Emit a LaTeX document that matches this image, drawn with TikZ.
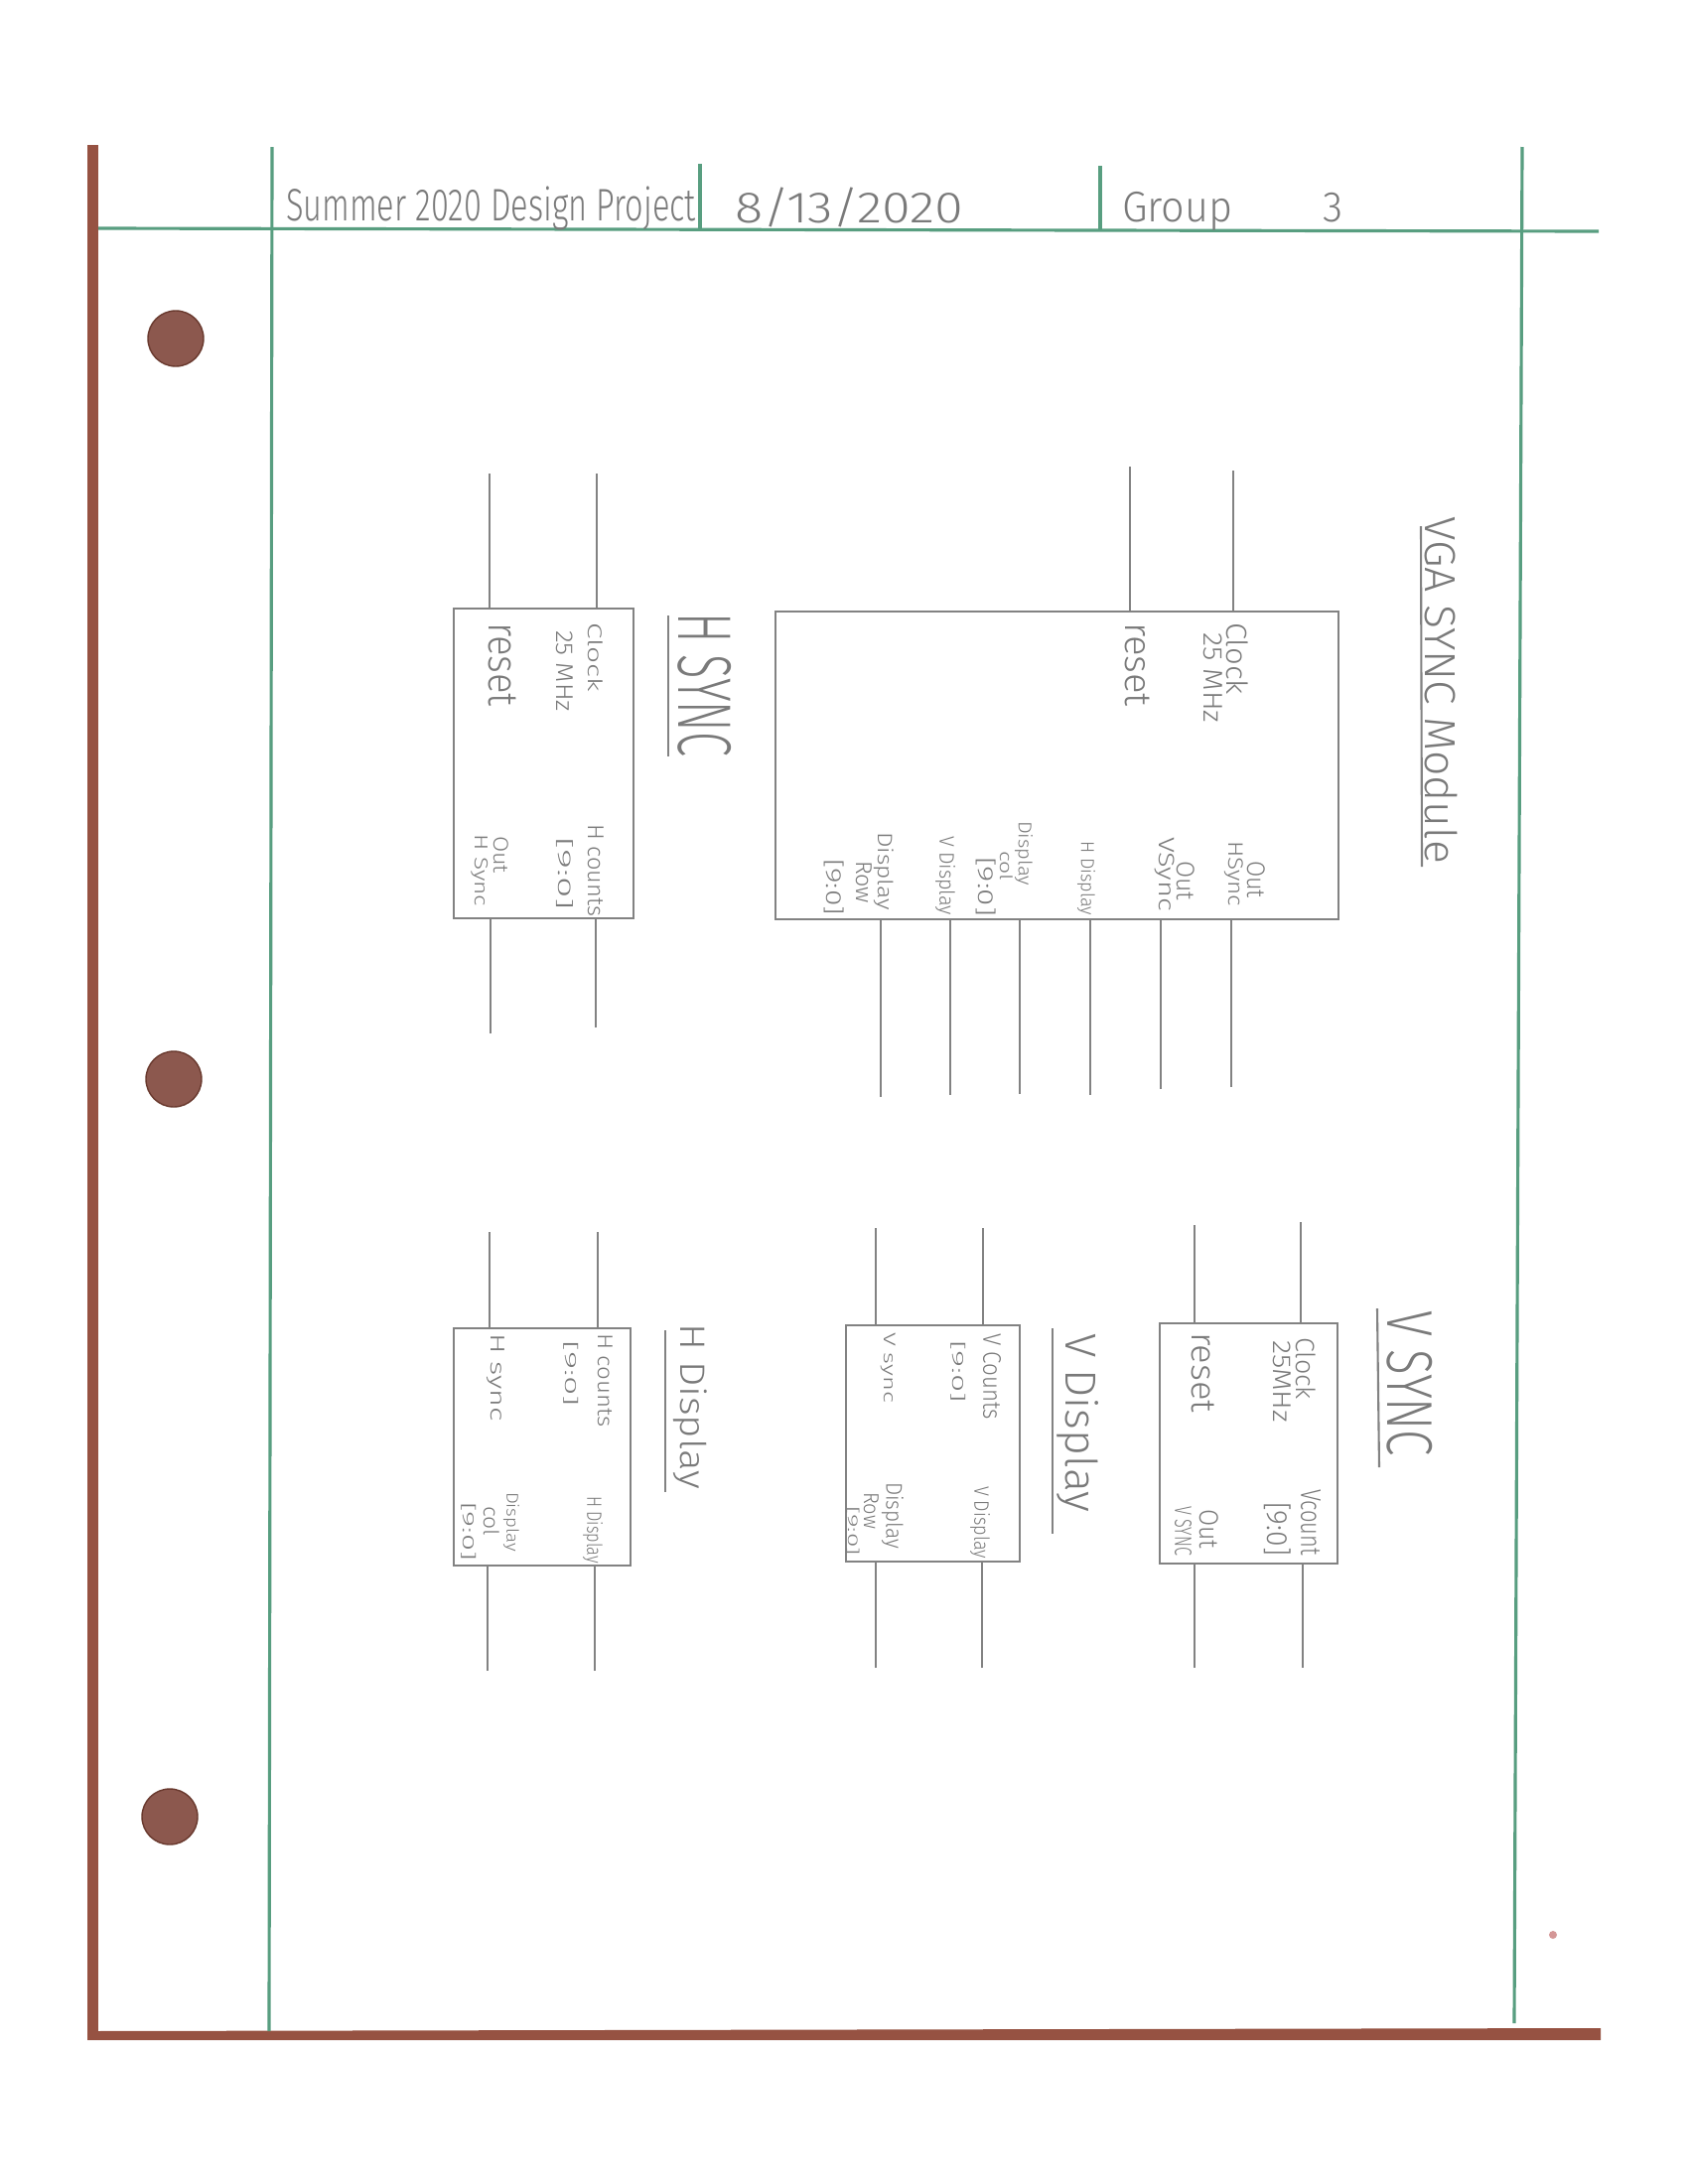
\documentclass[tikz,border=0pt]{standalone}
\usepackage{fontspec}
\setmainfont{Liberation Sans}
\IfFontExistsTF{Fira Sans Light}{\newfontfamily\thinfont{Fira Sans Light}}{\newfontfamily\thinfont{Liberation Sans}}
\usepackage{graphicx}
\newdimen\pxu \pxu=0.1mm
\definecolor{pencil}{RGB}{130,130,130}
\definecolor{pentext}{RGB}{122,122,122}
\definecolor{marg}{RGB}{88,158,128}
\definecolor{edgebrown}{RGB}{150,82,66}
\definecolor{holebrown}{RGB}{140,88,78}
\definecolor{specdot}{RGB}{212,150,150}
\tikzset{
  wire/.style={draw=pencil, line width=0.6pt},
  blk/.style={draw=pencil, line width=0.6pt, inner sep=0pt, outer sep=0pt},
  uline/.style={draw=pencil, line width=0.6pt},
  grn/.style={draw=marg, line width=0.9pt},
  lbl/.style={rotate=-90, anchor=north west, inner sep=0pt, outer sep=0pt, text=pentext, font=\thinfont\fontsize{7}{8}\selectfont},
  ttlstyle/.style={rotate=-90, anchor=north west, inner sep=0pt, outer sep=0pt, text=pentext, font=\thinfont\fontsize{15}{17}\selectfont},
  hdrtxt/.style={anchor=north west, inner sep=0pt, outer sep=0pt, text=pentext, font=\thinfont\fontsize{14}{16}\selectfont},
}
% name, x right, y top, length, thickness, text
\newcommand{\lab}[6]{\node[lbl] (#1) at (#2,#3) {\resizebox*{#4\pxu}{#5\pxu}{#6}};}
\newcommand{\ttl}[6]{\node[ttlstyle] (#1) at (#2,#3) {\resizebox*{#4\pxu}{#5\pxu}{#6}};}
% name, x left, y top, width, height, text
\newcommand{\hdr}[6]{\node[hdrtxt] (#1) at (#2,#3) {\resizebox*{#4\pxu}{#5\pxu}{#6}};}
\begin{document}
\begin{tikzpicture}[x=0.1mm, y=-0.1mm]
\useasboundingbox (0,0) rectangle (1700,2200);
\fill[white] (0,0) rectangle (1700,2200);

% paper edges (scan background)
\fill[edgebrown] (88,146) rectangle (99,2055);
\fill[edgebrown] (88,2046) -- (1612,2043) -- (1612,2055) -- (88,2055) -- cycle;

% binder holes
\fill[holebrown, draw=edgebrown!70!black, line width=0.4pt] (177,341) circle (28);
\fill[holebrown, draw=edgebrown!70!black, line width=0.4pt] (175,1087) circle (28);
\fill[holebrown, draw=edgebrown!70!black, line width=0.4pt] (171,1830) circle (28);
\fill[specdot] (1564,1949) circle (4);

% margin lines
\draw[grn] (99,230) -- (1610,233);
\draw[grn] (274,148) -- (271,2046);
\draw[grn] (1533,148) -- (1525,2038);
\draw[grn] (705,165) -- (705,231);
\draw[grn] (1108,167) -- (1108,232);

% header
\hdr{hdA}{288}{188}{413}{44}{Summer 2020 Design Project}
\hdr{hdB}{740}{189}{230}{40}{8/13/2020}
\hdr{hdC}{1130}{193}{223}{39}{Group\hspace{31pt}3}

% ---------- H SYNC ----------
\node[blk, minimum width=181\pxu, minimum height=312\pxu] (hs) at (547.5,769) {};
\coordinate (hsI1) at (493,477); \coordinate (hsI2) at (601,477);
\coordinate (hsO1) at (494,1041); \coordinate (hsO2) at (600,1035);
\draw[wire] (hsI1) -- (hsI1 |- hs.north);
\draw[wire] (hsI2) -- (hsI2 |- hs.north);
\draw[wire] (hsO1) -- (hsO1 |- hs.south);
\draw[wire] (hsO2) -- (hsO2 |- hs.south);
\lab{hsclk}{607}{627}{70}{15}{Clock}
\lab{hsmhz}{577}{635}{82}{17}{25 MHz}
\lab{hsrst}{520}{627}{85}{28}{reset}
\lab{hshc}{608}{830}{93}{16}{H counts}
\lab{hshcb}{577}{843}{74}{17}{[9:0]}
\lab{hsout}{512}{842}{38}{15}{Out}
\lab{hshsy}{492}{840}{73}{17}{H Sync}
\ttl{hstitle}{737}{617}{145}{54}{H SYNC}
\draw[uline] (673,620) -- (673,762);

% ---------- VGA SYNC Module ----------
\node[blk, minimum width=567\pxu, minimum height=310\pxu] (vga) at (1064.5,771) {};
\coordinate (vgI1) at (1138,470); \coordinate (vgI2) at (1242,474);
\coordinate (vgO1) at (887,1105); \coordinate (vgO2) at (957,1103);
\coordinate (vgO3) at (1027,1102); \coordinate (vgO4) at (1098,1103);
\coordinate (vgO5) at (1169,1097); \coordinate (vgO6) at (1240,1095);
\draw[wire] (vgI1) -- (vgI1 |- vga.north);
\draw[wire] (vgI2) -- (vgI2 |- vga.north);
\foreach \k in {1,...,6}{\draw[wire] (vgO\k) -- (vgO\k |- vga.south);}
\lab{vgclk}{1257}{627}{73}{22}{Clock}
\lab{vgmhz}{1231}{637}{91}{19}{25 MHz}
\lab{vgrst}{1158}{627}{85}{25}{reset}
\lab{vgoa}{1274}{867}{38}{18}{Out}
\lab{vghs}{1252}{847}{66}{19}{HSync}
\lab{vgob}{1203}{867}{40}{18}{Out}
\lab{vgvs}{1183}{843}{75}{20}{VSync}
\lab{vghd}{1103}{847}{75}{18}{H Display}
\lab{vgdca}{1040}{827}{65}{18}{Display}
\lab{vgdcb}{1020}{857}{30}{13}{col}
\lab{vgdcc}{1003}{863}{60}{20}{[9:0]}
\lab{vgvd}{962}{842}{80}{20}{V Display}
\lab{vgdra}{900}{838}{79}{20}{Display}
\lab{vgdrb}{878}{867}{43}{16}{Row}
\lab{vgdrc}{850}{865}{57}{20}{[9:0]}
\ttl{vgtitle}{1468}{520}{350}{33}{VGA SYNC Module}
\draw[uline] (1431,530) -- (1432,873);

% ---------- H Display ----------
\node[blk, minimum width=178\pxu, minimum height=239\pxu] (hd) at (546,1457.5) {};
\coordinate (hdI1) at (493,1241); \coordinate (hdI2) at (602,1241);
\coordinate (hdO1) at (491,1683); \coordinate (hdO2) at (599,1683);
\draw[wire] (hdI1) -- (hdI1 |- hd.north);
\draw[wire] (hdI2) -- (hdI2 |- hd.north);
\draw[wire] (hdO1) -- (hdO1 |- hd.south);
\draw[wire] (hdO2) -- (hdO2 |- hd.south);
\lab{hdhc}{617}{1343}{95}{15}{H counts}
\lab{hdhcb}{583}{1350}{67}{15}{[9:0]}
\lab{hdhs}{508}{1343}{89}{18}{H sync}
\lab{hdhd}{607}{1507}{68}{20}{H Display}
\lab{hdda}{523}{1503}{60}{16}{Display}
\lab{hddb}{503}{1517}{30}{16}{col}
\lab{hddc}{480}{1513}{59}{15}{[9:0]}
\ttl{hdtitle}{712}{1333}{167}{34}{H Display}
\draw[uline] (670,1340) -- (670,1503);

% ---------- V Display ----------
\node[blk, minimum width=175\pxu, minimum height=238\pxu] (vd) at (939.5,1454) {};
\coordinate (vdI1) at (882,1237); \coordinate (vdI2) at (990,1237);
\coordinate (vdO1) at (882,1680); \coordinate (vdO2) at (989,1680);
\draw[wire] (vdI1) -- (vdI1 |- vd.north);
\draw[wire] (vdI2) -- (vdI2 |- vd.north);
\draw[wire] (vdO1) -- (vdO1 |- vd.south);
\draw[wire] (vdO2) -- (vdO2 |- vd.south);
\lab{vdvc}{1008}{1343}{87}{18}{V Counts}
\lab{vdvcb}{973}{1350}{63}{15}{[9:0]}
\lab{vdvs}{902}{1342}{71}{15}{V sync}
\lab{vdvd}{997}{1497}{73}{20}{V Display}
\lab{vdda}{910}{1493}{67}{22}{Display}
\lab{vddb}{885}{1503}{37}{15}{Row}
\lab{vddc}{866}{1517}{50}{13}{[9:0]}
\ttl{vdtitle}{1107}{1343}{180}{42}{V Display}
\draw[uline] (1060,1338) -- (1060,1545);

% ---------- V SYNC ----------
\node[blk, minimum width=179\pxu, minimum height=242\pxu] (vs) at (1257.5,1454) {};
\coordinate (vsI1) at (1203,1234); \coordinate (vsI2) at (1310,1231);
\coordinate (vsO1) at (1203,1680); \coordinate (vsO2) at (1312,1680);
\draw[wire] (vsI1) -- (vsI1 |- vs.north);
\draw[wire] (vsI2) -- (vsI2 |- vs.north);
\draw[wire] (vsO1) -- (vsO1 |- vs.south);
\draw[wire] (vsO2) -- (vsO2 |- vs.south);
\lab{vsclk}{1325}{1347}{63}{20}{Clock}
\lab{vsmhz}{1300}{1350}{83}{18}{25MHz}
\lab{vsrst}{1223}{1342}{81}{23}{reset}
\lab{vsvc}{1330}{1500}{67}{20}{Vcount}
\lab{vsvcb}{1300}{1513}{54}{27}{[9:0]}
\lab{vsout}{1227}{1520}{40}{19}{Out}
\lab{vsvsy}{1200}{1517}{50}{17}{V SYNC}
\ttl{vstitle}{1443}{1320}{147}{46}{V SYNC}
\draw[uline] (1387,1318) -- (1389,1478);

\end{tikzpicture}
\end{document}
